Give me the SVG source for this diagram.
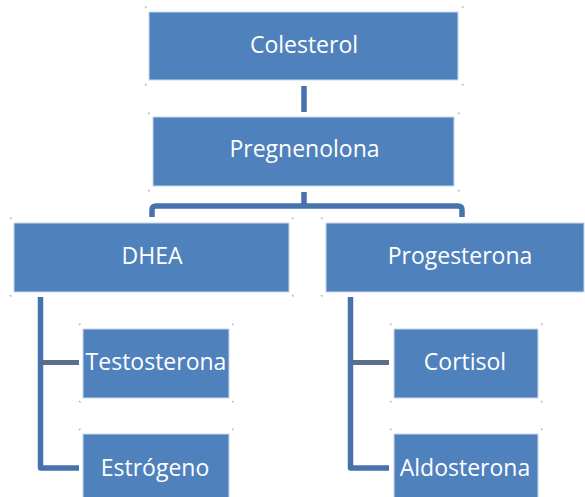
<svg xmlns="http://www.w3.org/2000/svg" width="585" height="497" viewBox="0 0 585 497">
<style>
.box{fill:#4f81bd;stroke:#c9d7ea;stroke-width:1}
.lbl{font-family:"Open Sans","Liberation Sans",sans-serif;font-size:23px;fill:#ffffff;text-anchor:middle}
.con{fill:none;stroke:#4672ae;stroke-width:5.5;stroke-linejoin:round}
.con2{fill:none;stroke:#5a6f8d;stroke-width:5}
.h{fill:none;stroke:#b5b5b5;stroke-width:1.2}
</style>
<rect width="585" height="497" fill="#ffffff"/>
<g id="connectors">
<path class="con" d="M304,86 V112"/>
<path class="con" d="M304,192 V206"/>
<path class="con" d="M152,217 V210 Q152,206 156,206 H458 Q462,206 462,210 V217"/>
<path class="con" d="M40.5,297 V468 H79"/>
<path class="con2" d="M40.5,362.5 H79"/>
<path class="con" d="M350.5,297 V468 H389"/>
<path class="con2" d="M350.5,362.5 H389"/>
</g>
<g id="colesterol">
<rect class="box" x="149" y="12" width="309" height="68"/>
<text class="lbl" x="304" y="53">Colesterol</text>
</g>
<g id="pregnenolona">
<rect class="box" x="153" y="117" width="301" height="69"/>
<text class="lbl" x="304.5" y="157">Pregnenolona</text>
</g>
<g id="dhea">
<rect class="box" x="14" y="223" width="275" height="69"/>
<text class="lbl" x="152" y="264">DHEA</text>
</g>
<g id="progesterona">
<rect class="box" x="326" y="223" width="258" height="69"/>
<text class="lbl" x="460" y="264">Progesterona</text>
</g>
<g id="testosterona">
<rect class="box" x="83" y="329" width="146" height="69"/>
<text class="lbl" x="156" y="370">Testosterona</text>
</g>
<g id="estrogeno">
<rect class="box" x="83" y="434" width="146" height="70"/>
<text class="lbl" x="155" y="476">Estrógeno</text>
</g>
<g id="cortisol">
<rect class="box" x="394" y="329" width="144" height="69"/>
<text class="lbl" x="465" y="370">Cortisol</text>
</g>
<g id="aldosterona">
<rect class="box" x="394" y="434" width="144" height="70"/>
<text class="lbl" x="465" y="476">Aldosterona</text>
</g>
<g id="handles">
<path class="h" d="M145,8 l1.5,-1.5 M462,8 l1.5,-1.5 M145,84 l1.5,1.5 M462,84 l1.5,1.5"/>
<path class="h" d="M148,114 l1.5,-1.5 M458,114 l1.5,-1.5 M148,190 l1.5,1.5 M458,190 l1.5,1.5"/>
<path class="h" d="M10,219 l1.5,-1.5 M292,219 l1.5,-1.5 M10,295 l1.5,1.5 M292,295 l1.5,1.5"/>
<path class="h" d="M321,219 l1.5,-1.5 M321,295 l1.5,1.5"/>
<path class="h" d="M79,325 l1.5,-1.5 M232,325 l1.5,-1.5 M79,401 l1.5,1.5 M232,401 l1.5,1.5"/>
<path class="h" d="M79,430 l1.5,-1.5 M232,430 l1.5,-1.5"/>
<path class="h" d="M390,325 l1.5,-1.5 M541,325 l1.5,-1.5 M390,401 l1.5,1.5 M541,401 l1.5,1.5"/>
<path class="h" d="M390,430 l1.5,-1.5 M541,430 l1.5,-1.5"/>
</g>
</svg>
